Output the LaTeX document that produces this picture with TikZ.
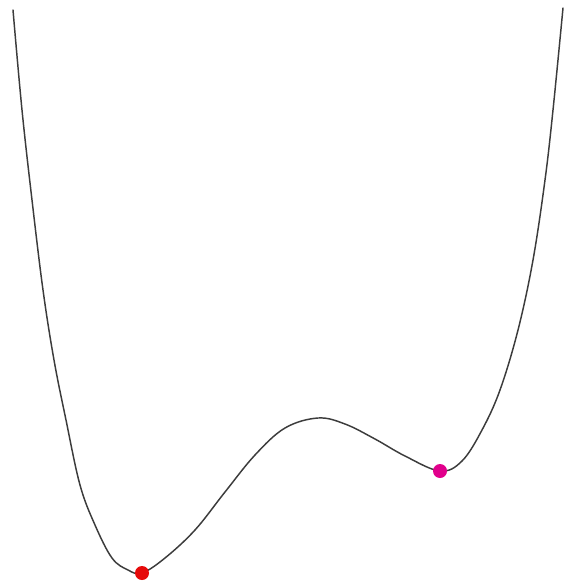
\documentclass[tikz,border=0pt]{standalone}
\definecolor{curvegray}{RGB}{60,60,60}
\definecolor{dotred}{RGB}{230,10,10}
\definecolor{dotpink}{RGB}{225,0,140}
\tikzset{
  curve/.style={draw=curvegray, line width=1.1pt, line join=round, line cap=round},
  dot/.style={circle, inner sep=0pt, minimum size=10.5pt}
}
\begin{document}
\begin{tikzpicture}[x=0.75pt,y=-0.75pt]
\useasboundingbox[fill=white] (0,0) rectangle (565,585);
\draw[curve] plot[smooth, tension=0.6] coordinates {
 (13,10) (22,110) (32,200) (43,290) (54,360) (66,420) (80,485) (95,525) (112,558) (128,570) (142,573)
 (165,558) (195,530) (225,492) (255,455) (285,428) (318,418) (345,424) (375,439)
 (405,456) (440,471) (462,461) (482,430) (500,390) (518,330) (533,260) (545,180)
 (553,110) (563,8)};
\node[dot, fill=dotred] (minA) at (142,573) {};
\node[dot, fill=dotpink] (minB) at (440,471) {};
\end{tikzpicture}
\end{document}
